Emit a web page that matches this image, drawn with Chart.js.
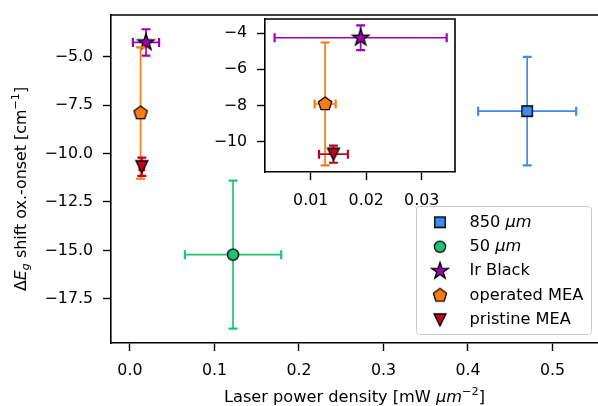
<!DOCTYPE html>
<html lang="en">
<head>
<meta charset="UTF-8" />
<title>Band gap shift vs laser power density</title>
<script src="https://cdn.jsdelivr.net/npm/chart.js"></script>
<style>
  html, body { margin: 0; padding: 0; background: #fff; overflow: hidden; }
  #wrap { position: relative; width: 598px; height: 406px; overflow: hidden; }
  #mainChart { position: absolute; left: 0; top: 0; }
  #insetChart { position: absolute; left: 200px; top: 10px; }
</style>
</head>
<body>
<div id="wrap">
  <canvas id="mainChart" width="604" height="406"></canvas>
  <canvas id="insetChart" width="270" height="200"></canvas>
</div>
<script>
// values
const seriesNames = ['850 μm', '50 μm', 'Ir Black', 'operated MEA', 'pristine MEA'];
const powerDensity = [0.470, 0.122, 0.019, 0.0126, 0.0141];      // mW µm^-2
const powerDensityErr = [0.058, 0.057, 0.0155, 0.0019, 0.0026];
const gapShift = [-7.81, -15.22, -4.26, -7.91, -10.68];          // cm^-1
const gapShiftErr = [2.80, 3.82, 0.68, 3.39, 0.47];
const insetSeries = [2, 3, 4];   // the low power points shown in the zoom box

const xTicks = [0, 0.1, 0.2, 0.3, 0.4, 0.5];
const yTicks = [-17.5, -15, -12.5, -10, -7.5, -5];
const insetXTicks = [0.01, 0.02, 0.03];
const insetYTicks = [-10, -8, -6, -4];

const colors = ['#3f8bf0', '#1cc474', '#a000b4', '#ff7b10', '#c20022'];
const shapes = ['square', 'circle', 'star', 'pentagon', 'triangleDown'];

const FONT = 'DejaVu Sans';
const MINUS = '\u2212';
const TICK_SIZE = 15.8;
const LABEL_SIZE = 16.2;

function makeMarker(shape, fill) {
    const s = 24, m = s / 2;
    const c = document.createElement('canvas');
    c.width = s; c.height = s;
    const g = c.getContext('2d');
    g.beginPath();
    if (shape === 'square') {
        g.rect(m - 5.25, m - 5.25, 10.5, 10.5);
    } else if (shape === 'circle') {
        g.arc(m, m, 5.6, 0, Math.PI * 2);
    } else if (shape === 'star' || shape === 'pentagon') {
        const n = shape === 'star' ? 10 : 5;
        for (let i = 0; i < n; i++) {
            const r = shape === 'star' ? (i % 2 ? 3.4 : 8.8) : 7;
            const a = -Math.PI / 2 + i * 2 * Math.PI / n;
            g.lineTo(m + r * Math.cos(a), m + r * Math.sin(a));
        }
        g.closePath();
    } else {
        g.moveTo(m - 6, m - 6); g.lineTo(m + 6, m - 6); g.lineTo(m, m + 6); g.closePath();
    }
    g.fillStyle = fill;
    g.fill();
    g.lineWidth = 1.3;
    g.strokeStyle = '#000';
    g.stroke();
    return c;
}
const markers = shapes.map((s, i) => makeMarker(s, colors[i]));

function buildDatasets(idx) {
    return idx.map(i => ({
        label: seriesNames[i],
        data: [{ x: powerDensity[i], y: gapShift[i] }],
        xErr: [powerDensityErr[i]],
        yErr: [gapShiftErr[i]],
        errColor: colors[i],
        pointStyle: markers[i],
        order: 10 - i,
        clip: false
    }));
}

// draws text made of plain / italic / sup / sub pieces
function drawRich(ctx, parts, x, y, size) {
    const fontOf = p => (p.italic ? 'italic ' : '') + (p.sup || p.sub ? size * 0.7 : size) + 'px "' + FONT + '"';
    let w = 0;
    parts.forEach(p => { ctx.font = fontOf(p); w += ctx.measureText(p.t).width; });
    let cx = x - w / 2;
    ctx.textAlign = 'left';
    ctx.textBaseline = 'alphabetic';
    parts.forEach(p => {
        ctx.font = fontOf(p);
        const dy = p.sup ? -size * 0.42 : (p.sub ? size * 0.22 : 0);
        ctx.fillText(p.t, cx, y + dy);
        cx += ctx.measureText(p.t).width;
    });
}

const errorBars = {
    id: 'errorBars',
    beforeDatasetDraw(chart, args) {
        const ds = chart.data.datasets[args.index];
        const xs = chart.scales.x, ys = chart.scales.y, ctx = chart.ctx;
        ctx.save();
        ctx.strokeStyle = ds.errColor;
        ds.data.forEach((p, i) => {
            const px = xs.getPixelForValue(p.x), py = ys.getPixelForValue(p.y);
            const x0 = xs.getPixelForValue(p.x - ds.xErr[i]), x1 = xs.getPixelForValue(p.x + ds.xErr[i]);
            const y0 = ys.getPixelForValue(p.y - ds.yErr[i]), y1 = ys.getPixelForValue(p.y + ds.yErr[i]);
            ctx.lineWidth = 1.7;
            ctx.beginPath();
            ctx.moveTo(x0, py); ctx.lineTo(x1, py);
            ctx.moveTo(px, y0); ctx.lineTo(px, y1);
            ctx.stroke();
            ctx.lineWidth = 2.2;
            ctx.beginPath();
            ctx.moveTo(x0, py - 4.5); ctx.lineTo(x0, py + 4.5);
            ctx.moveTo(x1, py - 4.5); ctx.lineTo(x1, py + 4.5);
            ctx.moveTo(px - 4.5, y0); ctx.lineTo(px + 4.5, y0);
            ctx.moveTo(px - 4.5, y1); ctx.lineTo(px + 4.5, y1);
            ctx.stroke();
        });
        ctx.restore();
    }
};

const frame = {
    id: 'frame',
    beforeDraw(chart) {
        const a = chart.chartArea, ctx = chart.ctx;
        ctx.save();
        ctx.fillStyle = '#fff';
        ctx.fillRect(a.left, a.top, a.right - a.left, a.bottom - a.top);
        ctx.restore();
    },
    afterDraw(chart) {
        const a = chart.chartArea, ctx = chart.ctx;
        ctx.save();
        ctx.strokeStyle = '#000';
        ctx.lineWidth = 1.6;
        ctx.beginPath();
        ctx.moveTo(a.left, a.top); ctx.lineTo(a.right, a.top); ctx.lineTo(a.right, a.bottom);
        ctx.stroke();
        ctx.restore();
    }
};

const decorations = {
    id: 'decorations',
    afterDraw(chart) {
        const ctx = chart.ctx, a = chart.chartArea;
        ctx.save();
        ctx.fillStyle = '#000';
        // x title
        drawRich(ctx, [
            { t: 'Laser power density [mW ' },
            { t: 'μm', italic: true },
            { t: MINUS + '2', sup: true },
            { t: ']' }
        ], (a.left + 598) / 2, 402, LABEL_SIZE);
        // y title
        ctx.translate(26, 189);
        ctx.rotate(-Math.PI / 2);
        drawRich(ctx, [
            { t: 'Δ' },
            { t: 'E', italic: true },
            { t: 'g', italic: true, sub: true },
            { t: ' shift ox.-onset [cm' },
            { t: MINUS + '1', sup: true },
            { t: ']' }
        ], 0, 0, 15.9);
        ctx.restore();

        // legend box
        ctx.save();
        const bx = 416.5, by = 206.5, bw = 175, bh = 128, r = 3;
        ctx.beginPath();
        ctx.roundRect(bx, by, bw, bh, r);
        ctx.fillStyle = 'rgba(255,255,255,0.8)';
        ctx.fill();
        ctx.strokeStyle = '#cccccc';
        ctx.lineWidth = 1;
        ctx.stroke();
        seriesNames.forEach((name, i) => {
            const yy = 222.3 + i * 24.4;
            const mk = markers[i];
            ctx.drawImage(mk, 440 - mk.width / 2, yy - mk.height / 2);
            ctx.fillStyle = '#000';
            const parts = name.endsWith('μm')
                ? [{ t: name.replace('μm', '') }, { t: 'μm', italic: true }]
                : [{ t: name }];
            let cx = 469.5;
            ctx.textBaseline = 'middle';
            parts.forEach(p => {
                ctx.font = (p.italic ? 'italic ' : '') + LABEL_SIZE + 'px "' + FONT + '"';
                ctx.fillText(p.t, cx, yy);
                cx += ctx.measureText(p.t).width;
            });
        });
        ctx.restore();
    }
};

function axis(tickValues, fmt, min, max, fit, isX, pad) {
    return {
        type: 'linear',
        min: min,
        max: max,
        afterBuildTicks: s => { s.ticks = tickValues.map(v => ({ value: v })); },
        afterFit: s => {
            if (isX) s.height = fit; else s.width = fit;
            s.paddingTop = 0; s.paddingBottom = 0; s.paddingLeft = 0; s.paddingRight = 0;
        },
        ticks: {
            callback: fmt,
            color: '#000',
            font: { family: FONT, size: TICK_SIZE },
            padding: pad,
            autoSkip: false,
            maxRotation: 0
        },
        grid: { drawOnChartArea: false, drawTicks: true, tickLength: 8, tickWidth: 1.4, tickColor: '#000' },
        border: { display: true, color: '#000', width: 1.6 }
    };
}

const fmtNeg = d => v => (v < 0 ? MINUS : '') + Math.abs(v).toFixed(d);

const mainChart = new Chart(document.getElementById('mainChart'), {
    type: 'scatter',
    data: { datasets: buildDatasets([0, 1, 2, 3, 4]) },
    options: {
        responsive: false,
        animation: false,
        layout: { padding: { top: 15, right: 4, left: 0, bottom: 0 } },
        plugins: { legend: { display: false }, tooltip: { enabled: false } },
        scales: {
            x: axis(xTicks, fmtNeg(1), -0.0224, 0.555, 63, true, 10),
            y: axis(yTicks, fmtNeg(1), -19.78, -2.845, 111, false, 10)
        }
    },
    plugins: [frame, errorBars, decorations]
});

const insetChart = new Chart(document.getElementById('insetChart'), {
    type: 'scatter',
    data: { datasets: buildDatasets(insetSeries) },
    options: {
        responsive: false,
        animation: false,
        layout: { padding: { top: 9, right: 15, left: 0, bottom: 0 } },
        plugins: { legend: { display: false }, tooltip: { enabled: false } },
        scales: {
            x: axis(insetXTicks, fmtNeg(2), 0.00177, 0.036, 38, true, 11),
            y: axis(insetYTicks, fmtNeg(0), -11.66, -3.225, 65, false, 10)
        }
    },
    plugins: [frame, errorBars]
});
</script>
</body>
</html>
